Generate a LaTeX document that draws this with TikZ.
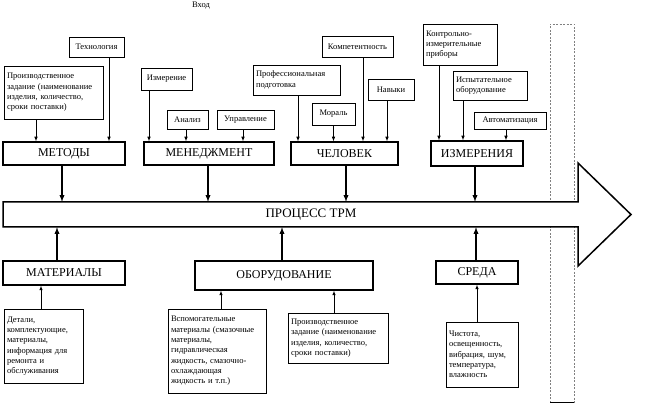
\documentclass[tikz,border=0pt]{standalone}
\usepackage{fontspec}
\setmainfont{Liberation Serif}
\usetikzlibrary{arrows}

\begin{document}
\begin{tikzpicture}[
x=1pt, y=-1pt,
font=\fontsize{8.5}{10.3}\selectfont,
note/.style={draw=black, line width=0.6pt, inner sep=3pt, align=left, anchor=center},
group/.style={draw=black, line width=1.3pt, inner sep=2pt, font=\fontsize{12}{14}\selectfont},
feed/.style={-latex, line width=0.6pt},
main/.style={-latex, line width=1.3pt},
]
\useasboundingbox (0,0) rectangle (657,411);

% border of the input zone and the process arrow
\draw[gray, line width=0.7pt, dash pattern=on 2pt off 1.5pt] (550,403) -- (550,24) -- (574,24) -- (574,403);
\draw[line width=1pt] (550,403) -- (574,403);
\draw[line width=1.5pt, fill=white, line join=miter] (3,202) -- (578,202) -- (578,163) -- (631,214.5) -- (578,266) -- (578,227) -- (3,227) -- cycle;
\node[minimum width=616pt, minimum height=25pt, inner sep=0pt, font=\fontsize{13}{15}\selectfont] (proc) at (311,214.5) {ПРОЦЕСС ТРМ};

\node (entry) at (201,6) {Вход};

% upper groups
\node[group, minimum width=122pt, minimum height=23pt] (methods) at (64,153.5) {МЕТОДЫ};
\node[group, minimum width=130pt, minimum height=23pt] (mgmt) at (209,153.5) {МЕНЕДЖМЕНТ};
\node[group, minimum width=107pt, minimum height=23pt] (human) at (344.5,153.5) {ЧЕЛОВЕК};
\node[group, minimum width=92pt, minimum height=25pt] (measure) at (477,153.5) {ИЗМЕРЕНИЯ};

\node[note, minimum width=55pt, minimum height=20pt] (tech) at (96.5,47) {Технология};
\node[note, text width=93pt, minimum height=53pt] (task) at (53.5,92.5) {Производственное\\задание (наименование\\изделия, количество,\\сроки поставки)};
\node[note, minimum width=51pt, minimum height=22pt] (meter) at (166.5,79) {Измерение};
\node[note, minimum width=41pt, minimum height=19pt] (anal) at (187.5,119.5) {Анализ};
\node[note, minimum width=57pt, minimum height=19pt] (ctrl) at (245.5,119.5) {Управление};
\node[note, text width=81pt, minimum height=30pt] (prof) at (296.5,80) {Профессиональная\\подготовка};
\node[note, minimum width=43pt, minimum height=22pt] (moral) at (333.5,114) {Мораль};
\node[note, minimum width=71pt, minimum height=21pt] (comp) at (357.5,46.5) {Компетентность};
\node[note, minimum width=46pt, minimum height=21pt] (skill) at (391,89.5) {Навыки};
\node[note, text width=68pt, minimum height=41pt] (instr) at (460,44.5) {Контрольно-\\измерительные\\приборы};
\node[note, text width=68pt, minimum height=29pt] (test) at (490,85.5) {Испытательное\\оборудование};
\node[note, minimum width=72pt, minimum height=17pt] (auto) at (510,120.5) {Автоматизация};

\draw[feed] ([xshift=12.5pt]tech.south) -- ([xshift=12.5pt]tech.south |- methods.north);
\draw[feed] ([xshift=-17.5pt]task.south) -- ([xshift=-17.5pt]task.south |- methods.north);
\draw[feed] ([xshift=-17.5pt]meter.south) -- ([xshift=-17.5pt]meter.south |- mgmt.north);
\draw[feed] ([xshift=-1.5pt]anal.south) -- ([xshift=-1.5pt]anal.south |- mgmt.north);
\draw[feed] ([xshift=-2.5pt]ctrl.south) -- ([xshift=-2.5pt]ctrl.south |- mgmt.north);
\draw[feed] ([xshift=1.5pt]prof.south) -- ([xshift=1.5pt]prof.south |- human.north);
\draw[feed] (moral.south) -- (moral.south |- human.north);
\draw[feed] ([xshift=5.5pt]comp.south) -- ([xshift=5.5pt]comp.south |- human.north);
\draw[feed] ([xshift=-4pt]skill.south) -- ([xshift=-4pt]skill.south |- human.north);
\draw[feed] ([xshift=-21pt]instr.south) -- ([xshift=-21pt]instr.south |- measure.north);
\draw[feed] ([xshift=-27pt]test.south) -- ([xshift=-27pt]test.south |- measure.north);
\draw[feed] ([xshift=-4pt]auto.south) -- ([xshift=-4pt]auto.south |- measure.north);

\draw[main] ([xshift=-2pt]methods.south) -- ([xshift=-2pt]methods.south |- proc.north);
\draw[main] ([xshift=-1pt]mgmt.south) -- ([xshift=-1pt]mgmt.south |- proc.north);
\draw[main] ([xshift=1.5pt]human.south) -- ([xshift=1.5pt]human.south |- proc.north);
\draw[main] ([xshift=-2pt]measure.south) -- ([xshift=-2pt]measure.south |- proc.north);

% lower groups
\node[group, minimum width=122pt, minimum height=24pt] (mat) at (64,273) {МАТЕРИАЛЫ};
\node[group, minimum width=178pt, minimum height=29pt] (equip) at (284,275.5) {ОБОРУДОВАНИЕ};
\node[group, minimum width=82pt, minimum height=23pt] (env) at (477,272.5) {СРЕДА};

\node[note, text width=73pt, minimum height=74pt] (parts) at (43.5,346) {Детали,\\комплектующие,\\материалы,\\информация для\\ремонта и\\обслуживания};
\node[note, text width=92pt, minimum height=84pt] (aux) at (217,351) {Вспомогательные\\материалы (смазочные\\материалы,\\гидравлическая\\жидкость, смазочно-\\охлаждающая\\жидкость и т.п.)};
\node[note, text width=94pt, minimum height=50pt] (order) at (338,338) {Производственное\\задание (наименование\\изделия, количество,\\сроки поставки)};
\node[note, text width=66pt, minimum height=65pt] (cond) at (482,354.5) {Чистота,\\освещенность,\\вибрация, шум,\\температура,\\влажность};

\draw[main] ([xshift=-7pt]mat.north) -- ([xshift=-7pt]mat.north |- proc.south);
\draw[main] ([xshift=-2pt]equip.north) -- ([xshift=-2pt]equip.north |- proc.south);
\draw[main] ([xshift=-1pt]env.north) -- ([xshift=-1pt]env.north |- proc.south);

\draw[feed] ([xshift=-2.5pt]parts.north) -- ([xshift=-2.5pt]parts.north |- mat.south);
\draw[feed] ([xshift=4pt]aux.north) -- ([xshift=4pt]aux.north |- equip.south);
\draw[feed] ([xshift=-4pt]order.north) -- ([xshift=-4pt]order.north |- equip.south);
\draw[feed] ([xshift=-5pt]cond.north) -- ([xshift=-5pt]cond.north |- env.south);

\end{tikzpicture}
\end{document}
